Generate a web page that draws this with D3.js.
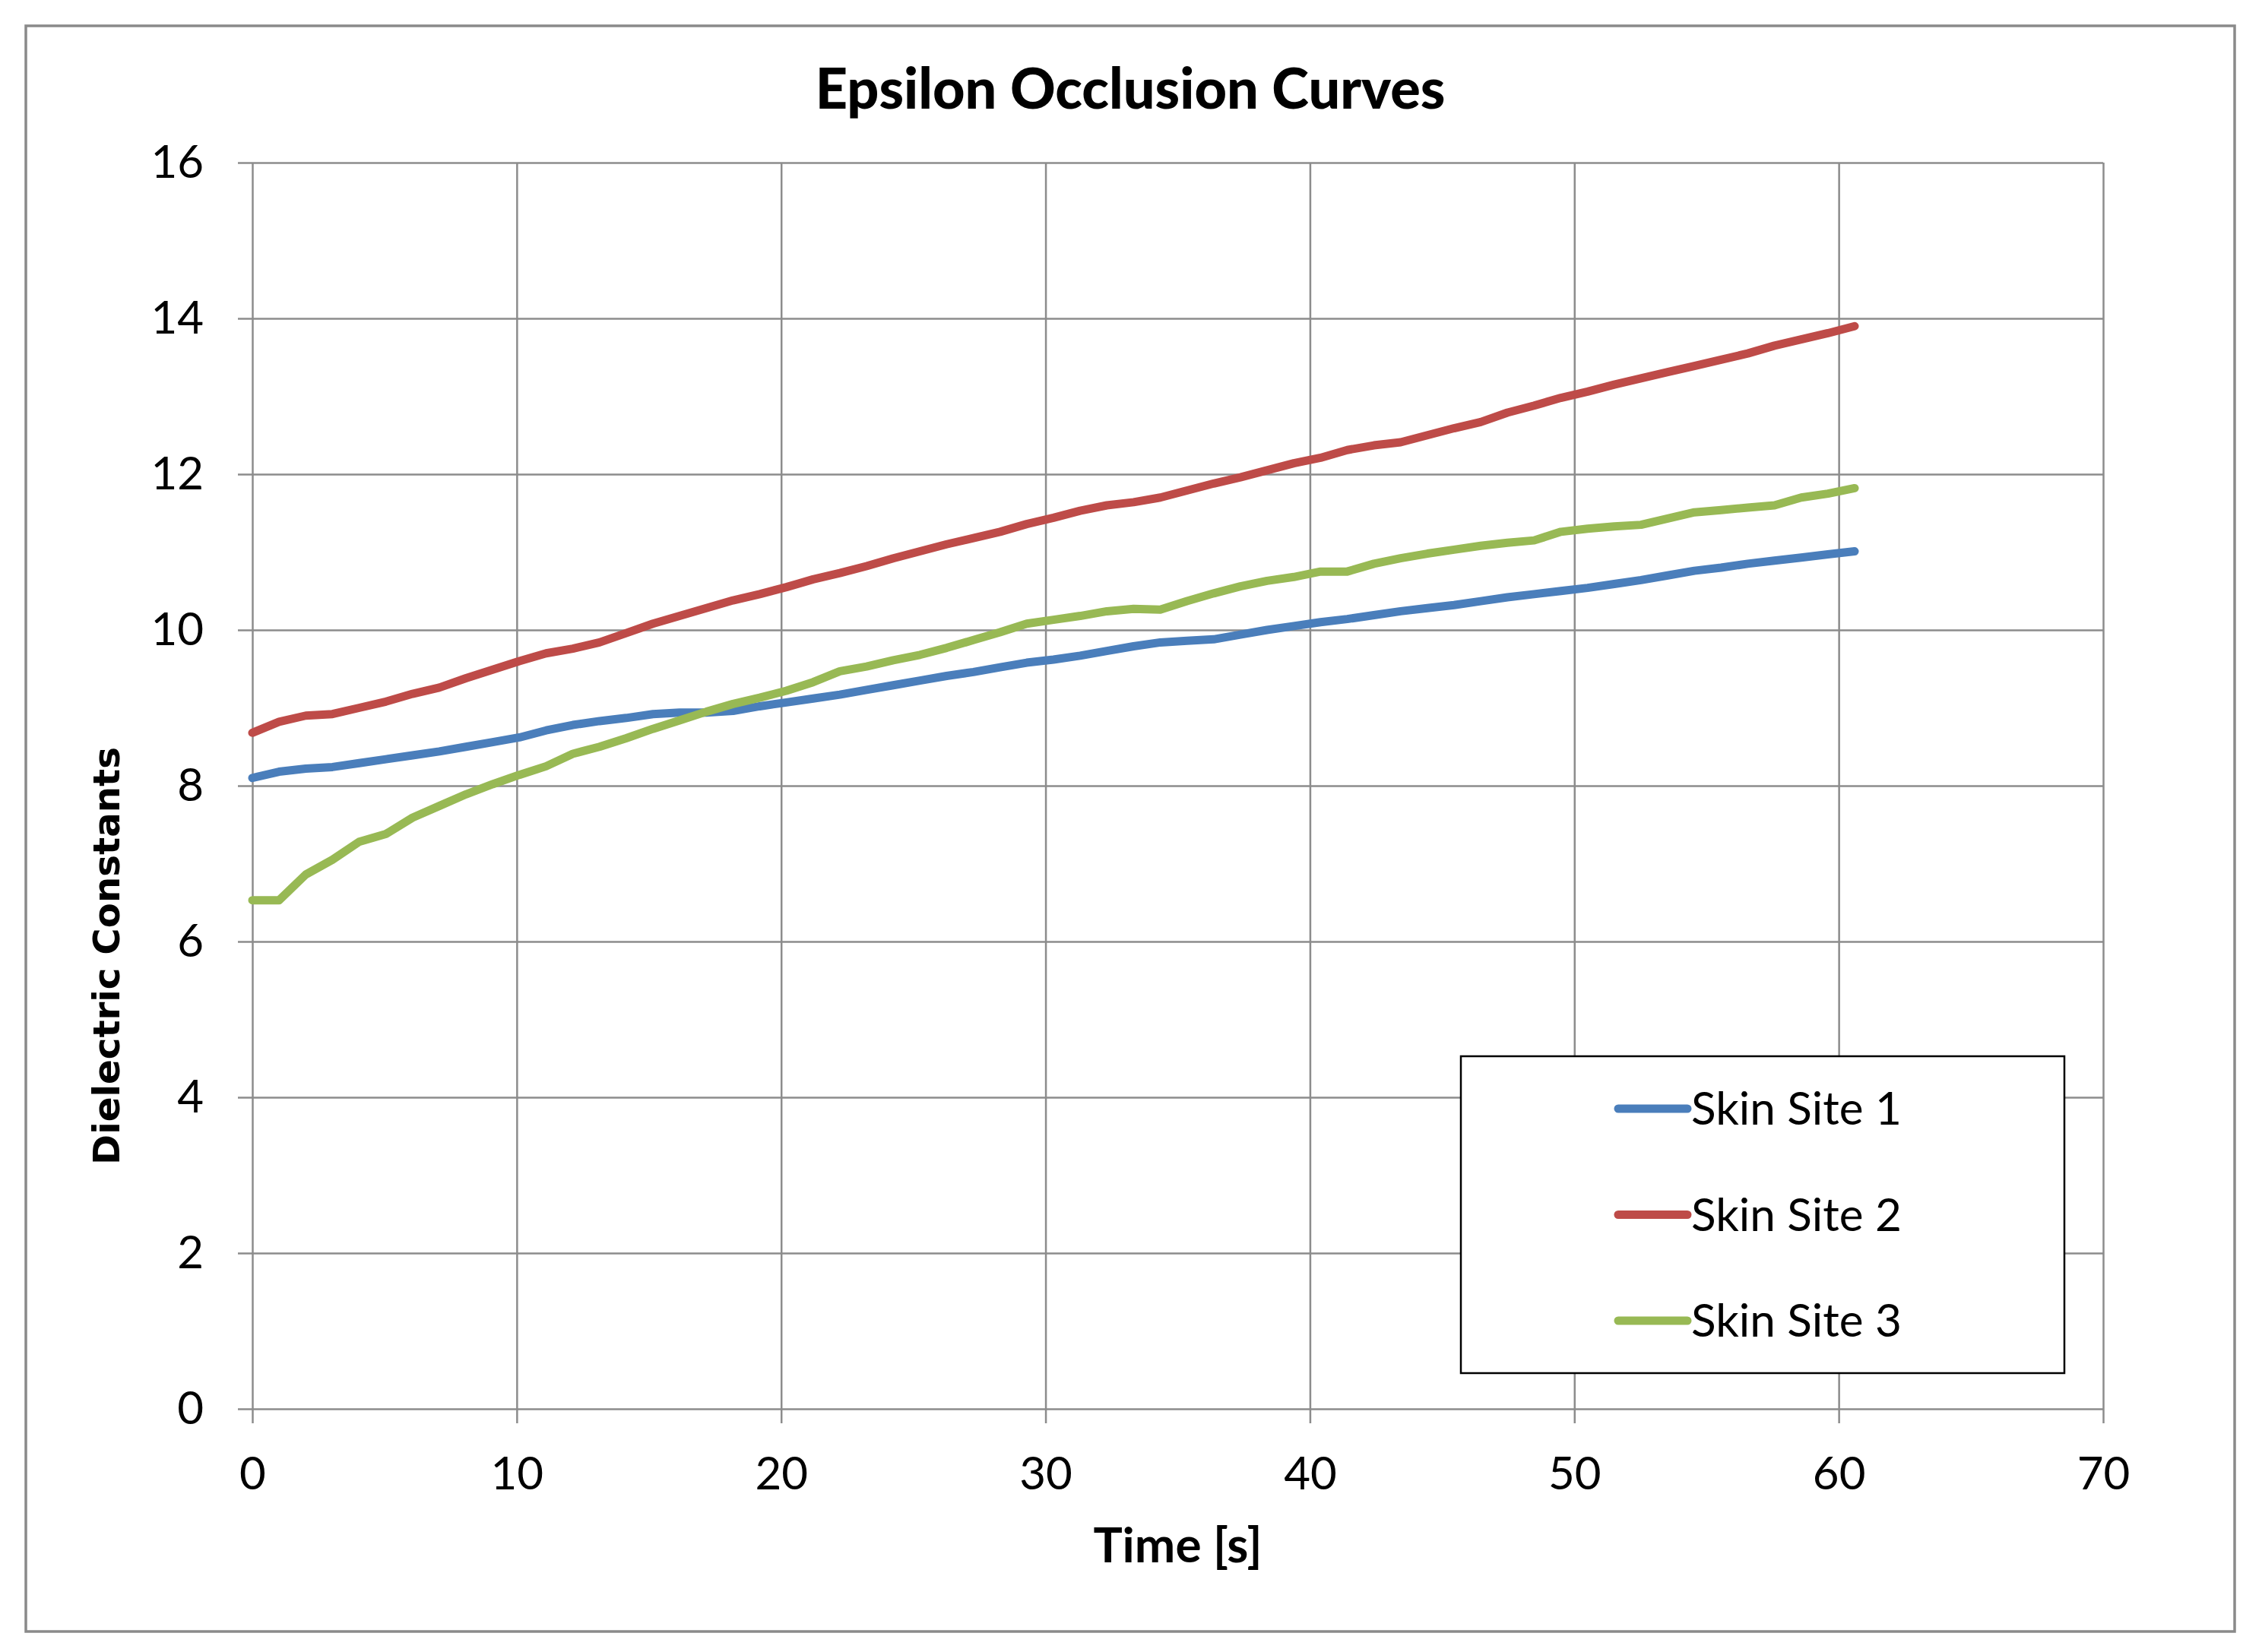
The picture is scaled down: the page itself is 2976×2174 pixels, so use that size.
<!DOCTYPE html>
<html>
<head>
<meta charset="utf-8">
<script src="https://cdn.jsdelivr.net/npm/d3@7"></script>
<style>
  body { margin: 0; background: #fff; }
  text { font-family: Lato, sans-serif; fill: #000; }
</style>
</head>
<body>
<svg id="chart"></svg>
<script>
// time in seconds, one sample roughly every second
const TIME = [0, 1.01, 2.02, 3.03, 4.04, 5.05, 6.06, 7.07, 8.08, 9.09,
  10.1, 11.11, 12.12, 13.13, 14.14, 15.15, 16.16, 17.17, 18.18, 19.19,
  20.2, 21.21, 22.22, 23.23, 24.24, 25.25, 26.26, 27.27, 28.28, 29.29,
  30.3, 31.31, 32.32, 33.33, 34.34, 35.35, 36.36, 37.37, 38.38, 39.39,
  40.4, 41.41, 42.42, 43.43, 44.44, 45.45, 46.46, 47.47, 48.48, 49.49,
  50.5, 51.51, 52.52, 53.53, 54.54, 55.55, 56.56, 57.57, 58.58, 59.59, 60.6]

const SITE_1 = [8.10, 8.18, 8.22, 8.24, 8.29, 8.34, 8.39, 8.44, 8.50, 8.56,
  8.62, 8.71, 8.78, 8.83, 8.87, 8.92, 8.94, 8.94, 8.96, 9.02,
  9.07, 9.12, 9.17, 9.23, 9.29, 9.35, 9.41, 9.46, 9.52, 9.58,
  9.62, 9.67, 9.73, 9.79, 9.84, 9.86, 9.88, 9.94, 10.00, 10.05,
  10.10, 10.14, 10.19, 10.24, 10.28, 10.32, 10.37, 10.42, 10.46, 10.50,
  10.54, 10.59, 10.64, 10.70, 10.76, 10.80, 10.85, 10.89, 10.93, 10.97, 11.01]

const SITE_2 = [8.68, 8.82, 8.90, 8.92, 9.00, 9.08, 9.18, 9.26, 9.38, 9.49,
  9.60, 9.70, 9.76, 9.84, 9.96, 10.08, 10.18, 10.28, 10.38, 10.46,
  10.55, 10.65, 10.73, 10.82, 10.92, 11.01, 11.10, 11.18, 11.26, 11.36,
  11.44, 11.53, 11.60, 11.64, 11.70, 11.79, 11.88, 11.96, 12.05, 12.14,
  12.21, 12.31, 12.37, 12.41, 12.50, 12.59, 12.67, 12.79, 12.88, 12.98,
  13.06, 13.15, 13.23, 13.31, 13.39, 13.47, 13.55, 13.65, 13.73, 13.81, 13.90]

const SITE_3 = [6.53, 6.53, 6.86, 7.05, 7.28, 7.38, 7.59, 7.74, 7.89, 8.02,
  8.14, 8.25, 8.41, 8.50, 8.61, 8.73, 8.84, 8.95, 9.05, 9.13,
  9.22, 9.33, 9.47, 9.53, 9.61, 9.68, 9.77, 9.87, 9.97, 10.08,
  10.13, 10.18, 10.24, 10.27, 10.26, 10.37, 10.47, 10.56, 10.63, 10.68,
  10.75, 10.75, 10.85, 10.92, 10.98, 11.03, 11.08, 11.12, 11.15, 11.26,
  11.30, 11.33, 11.35, 11.43, 11.51, 11.54, 11.57, 11.60, 11.70, 11.75, 11.82]

const SERIES_NAMES = ['Skin Site 1', 'Skin Site 2', 'Skin Site 3']
const X_TICKS = [0, 10, 20, 30, 40, 50, 60, 70]
const Y_TICKS = [0, 2, 4, 6, 8, 10, 12, 14, 16]

const WIDTH = 2976
const HEIGHT = 2174
const PLOT = { left: 332, right: 2767, top: 214, bottom: 1854 }
const COLORS = ['#4A7EBB', '#BE4B48', '#98B954']
const GRID = '#8c8c8c'

// scale a text's font size so that it spans the width seen in the original
function fitWidth(sel, target) {
  const w = sel.node().getComputedTextLength()
  const size = parseFloat(sel.style('font-size'))
  sel.style('font-size', `${size * target / w}px`)
  return size * target / w
}

const svg = d3.select('#chart')
  .attr('width', WIDTH)
  .attr('height', HEIGHT)

svg.append('rect')
  .attr('x', 34)
  .attr('y', 34)
  .attr('width', 2906)
  .attr('height', 2113)
  .attr('fill', '#fff')
  .attr('stroke', '#8a8a8a')
  .attr('stroke-width', 3.5)

const x = d3.scaleLinear().domain([0, 70]).range([PLOT.left, PLOT.right])
const y = d3.scaleLinear().domain([0, 16]).range([PLOT.bottom, PLOT.top])

const plotW = PLOT.right - PLOT.left
const plotH = PLOT.bottom - PLOT.top

// y axis with gridlines
const yAxis = svg.append('g')
  .attr('transform', `translate(${PLOT.left}, 0)`)
  .call(d3.axisLeft(y).tickValues(Y_TICKS).tickSize(19).tickPadding(45))
yAxis.select('.domain').remove()
yAxis.selectAll('.tick line')
  .attr('x1', plotW)
  .attr('stroke', GRID)
  .attr('stroke-width', 2.5)
yAxis.selectAll('.tick text')
  .style('font-size', '60px')
  .style('font-family', 'Lato, sans-serif')

// x axis with gridlines
const xAxis = svg.append('g')
  .attr('transform', `translate(0, ${PLOT.bottom})`)
  .call(d3.axisBottom(x).tickValues(X_TICKS).tickSize(19).tickPadding(44))
xAxis.select('.domain').remove()
xAxis.selectAll('.tick line')
  .attr('y1', -plotH)
  .attr('stroke', GRID)
  .attr('stroke-width', 2.5)
xAxis.selectAll('.tick text')
  .style('font-size', '60px')
  .style('font-family', 'Lato, sans-serif')

// series lines
const line = d3.line()
  .x((d, i) => x(TIME[i]))
  .y(d => y(d))

const series = [SITE_1, SITE_2, SITE_3]

svg.append('g')
  .selectAll('path')
  .data(series)
  .enter()
  .append('path')
  .attr('d', line)
  .attr('fill', 'none')
  .attr('stroke', (d, i) => COLORS[i])
  .attr('stroke-width', 11)
  .attr('stroke-linejoin', 'round')
  .attr('stroke-linecap', 'round')

// titles
const title = svg.append('text')
  .attr('x', 1487)
  .attr('y', 143)
  .attr('text-anchor', 'middle')
  .style('font-weight', 900)
  .style('font-size', '72px')
  .text('Epsilon Occlusion Curves')
fitWidth(title, 829)

const xTitle = svg.append('text')
  .attr('x', (PLOT.left + PLOT.right) / 2)
  .attr('y', 2056)
  .attr('text-anchor', 'middle')
  .style('font-weight', 'bold')
  .style('font-size', '60px')
  .text('Time [s]')
fitWidth(xTitle, 222)

const yTitle = svg.append('text')
  .attr('transform', `translate(157, ${(PLOT.top + PLOT.bottom) / 2 + 224}) rotate(-90)`)
  .attr('text-anchor', 'middle')
  .style('font-family', '"DejaVu Sans", sans-serif')
  .style('font-weight', 'bold')
  .style('font-size', '48px')
  .text('Dielectric Constants')
fitWidth(yTitle, 550)

// legend
const legend = svg.append('g')
  .attr('transform', 'translate(1922, 1390)')

legend.append('rect')
  .attr('width', 794)
  .attr('height', 417)
  .attr('fill', '#fff')
  .attr('stroke', '#000')
  .attr('stroke-width', 2.5)

const rows = legend.selectAll('.row')
  .data(SERIES_NAMES)
  .enter()
  .append('g')
  .attr('class', 'row')
  .attr('transform', (d, i) => `translate(0, ${69 + i * 139.5})`)

rows.append('line')
  .attr('x1', 207)
  .attr('x2', 298)
  .attr('stroke', (d, i) => COLORS[i])
  .attr('stroke-width', 11)
  .attr('stroke-linecap', 'round')

const labels = rows.append('text')
  .attr('x', 303)
  .attr('y', 21)
  .style('font-size', '60px')
  .text(d => d)

const size = fitWidth(d3.select(labels.nodes()[0]), 277)
labels.style('font-size', `${size}px`)
</script>
</body>
</html>
